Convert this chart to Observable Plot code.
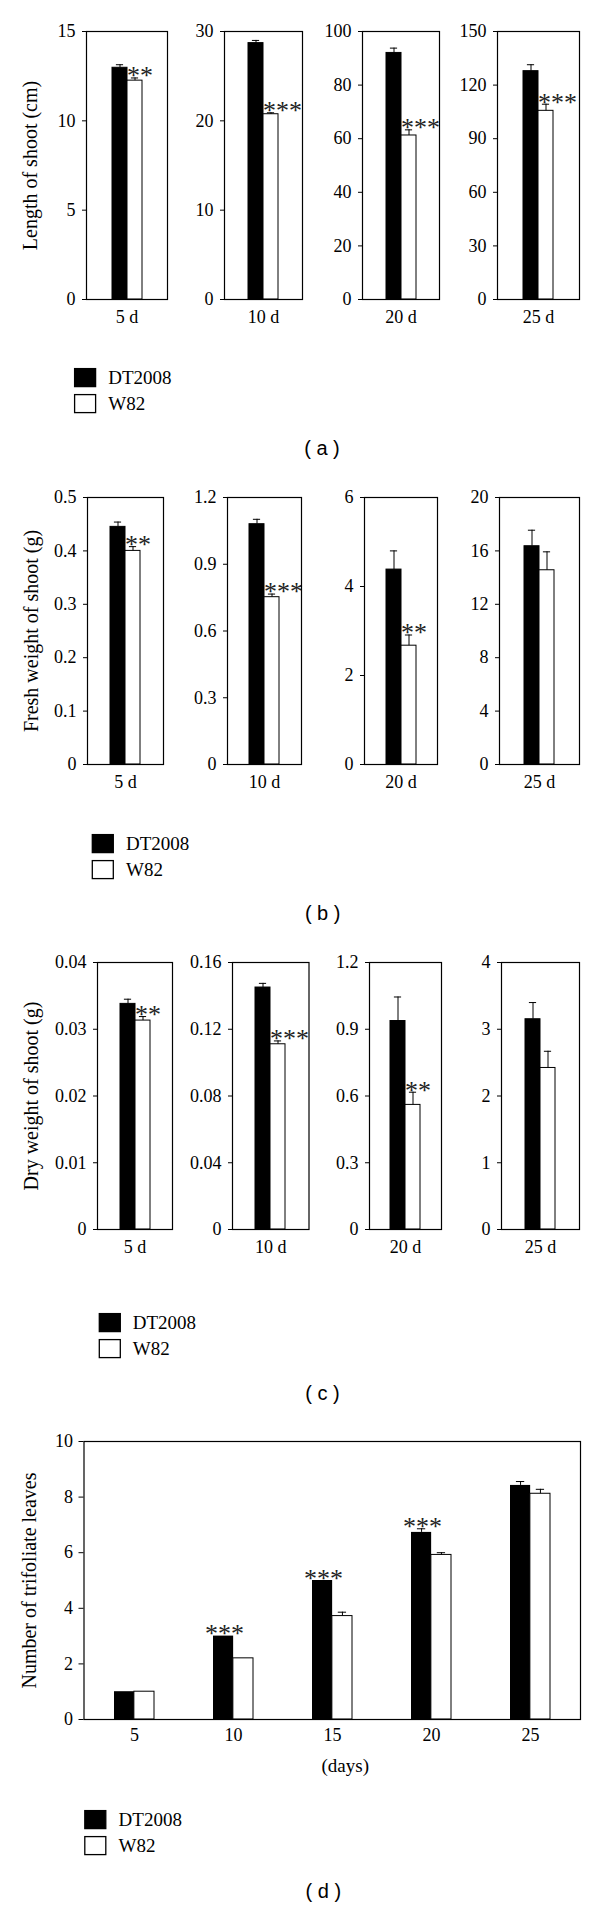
<!DOCTYPE html>
<html><head><meta charset="utf-8">
<script src="https://cdn.jsdelivr.net/npm/d3@7"></script>
<script src="https://cdn.jsdelivr.net/npm/@observablehq/plot@0.6"></script>
<style>
body{margin:0;background:#fff;}
#page{position:relative;width:600px;height:1908px;overflow:hidden;background:#fff;}
#page svg{position:absolute;}
</style></head><body><div id="page"></div>
<script>
// ---------- data ----------
const genotypes = ["DT2008", "W82"];
const days = ["5 d", "10 d", "20 d", "25 d"];

// (a) Length of shoot (cm)
const lengthDT = [12.97, 28.7, 92.0, 127.8];
const lengthDTErr = [0.17, 0.3, 1.8, 3.6];
const lengthW82 = [12.25, 20.74, 61.2, 105.6];
const lengthW82Err = [0.15, 0.16, 2.1, 3.7];
const lengthSig = ["**", "***", "***", "***"];
const lengthMax = [15, 30, 100, 150];
const lengthTicks = [[0, 5, 10, 15], [0, 10, 20, 30], [0, 20, 40, 60, 80, 100], [0, 30, 60, 90, 120, 150]];

// (b) Fresh weight of shoot (g)
const freshDT = [0.445, 1.08, 4.38, 16.35];
const freshDTErr = [0.009, 0.022, 0.42, 1.2];
const freshW82 = [0.40, 0.752, 2.67, 14.55];
const freshW82Err = [0.008, 0.014, 0.24, 1.38];
const freshSig = ["**", "***", "**", ""];
const freshMax = [0.5, 1.2, 6, 20];
const freshTicks = [[0, 0.1, 0.2, 0.3, 0.4, 0.5], [0, 0.3, 0.6, 0.9, 1.2], [0, 2, 4, 6], [0, 4, 8, 12, 16, 20]];

// (c) Dry weight of shoot (g)
const dryDT = [0.0338, 0.145, 0.937, 3.15];
const dryDTErr = [0.0007, 0.0025, 0.108, 0.25];
const dryW82 = [0.0313, 0.111, 0.56, 2.42];
const dryW82Err = [0.0006, 0.002, 0.057, 0.25];
const drySig = ["**", "***", "**", ""];
const dryMax = [0.04, 0.16, 1.2, 4];
const dryTicks = [[0, 0.01, 0.02, 0.03, 0.04], [0, 0.04, 0.08, 0.12, 0.16], [0, 0.3, 0.6, 0.9, 1.2], [0, 1, 2, 3, 4]];

// (d) Number of trifoliate leaves
const leafDays = ["5", "10", "15", "20", "25"];
const leavesDT = [1.0, 3.0, 5.0, 6.73, 8.42];
const leavesDTErr = [0, 0, 0, 0.13, 0.14];
const leavesW82 = [1.0, 2.2, 3.72, 5.92, 8.12];
const leavesW82Err = [0, 0, 0.14, 0.08, 0.16];
const leavesSig = ["", "***", "***", "***", ""];
const leavesTicks = [0, 2, 4, 6, 8, 10];

const titles = ["Length of shoot (cm)", "Fresh weight of shoot (g)", "Dry weight of shoot (g)", "Number of trifoliate leaves"];
const panelLabels = ["( a )", "( b )", "( c )", "( d )"];

// ---------- layout ----------
const rowsLayout = [
  {L: [86, 224, 362, 497], R: [167, 302, 439, 579], T: 31, B: 299, titleOffset: 64},
  {L: [87, 227, 364, 499], R: [163, 301, 437, 579], T: 497, B: 764, titleOffset: 63.6},
  {L: [97, 232, 369, 501], R: [172, 308.5, 441, 579], T: 962, B: 1229, titleOffset: 73.6}
];
const dLayout = {L: 83.5, R: 580, T: 1441, B: 1719, titleOffset: 62};
const legendLayout = [
  {x: 74, y: 368, tx: 108.3},
  {x: 91.7, y: 834, tx: 126},
  {x: 98.7, y: 1313, tx: 132.8},
  {x: 84.2, y: 1810, tx: 118.6}
];
const labelLayout = [{x: 322, y: 455}, {x: 322.7, y: 920}, {x: 322.5, y: 1400}, {x: 323.4, y: 1898}];

const SERIF = "'Liberation Serif','Times New Roman',serif";
const page = document.getElementById("page");
const svgStyle = `background:transparent;overflow:visible;font-family:${SERIF};color:black;max-width:none;`;
const STAR_SIZE = 26;

function subplot({day, dt, dtErr, w82, w82Err, sig, max, ticks, L, R, T, B, title, titleOffset}) {
  const fw = R - L, fh = B - T;
  const mL = title ? L : 55, mR = 30, mT = 12, mB = 36;
  const barW = 15.8;
  const po = (fw / barW - 2) / 2;
  const rows = [{g: genotypes[0], v: dt, e: dtErr}, {g: genotypes[1], v: w82, e: w82Err}];
  const capInset = (barW - 8) / 2;
  const marks = [
    Plot.barY(rows, {x: "g", y: "v", fill: "g", stroke: "black", strokeWidth: 1}),
    Plot.ruleX(rows.filter(d => d.e > 0), {x: "g", y1: "v", y2: d => d.v + d.e, stroke: "black", strokeWidth: 1}),
    Plot.tickY(rows.filter(d => d.e > 0), {x: "g", y: d => d.v + d.e, stroke: "black", strokeWidth: 1, insetLeft: capInset, insetRight: capInset}),
    Plot.text(sig ? [rows[1]] : [], {x: "g", y: d => d.v + d.e, text: () => sig, textAnchor: "start", dx: -barW / 2, lineAnchor: "middle", dy: -2, fontSize: STAR_SIZE, fill: "#222"}),
    Plot.axisY({ticks, tickFormat: d => String(d), tickSize: 4, tickPadding: 7, fontSize: 18, label: null}),
    Plot.text([day], {frameAnchor: "bottom", textAnchor: "middle", lineAnchor: "top", dy: 11, fontSize: 18}),
    Plot.frame({stroke: "black", strokeWidth: 1.2})
  ];
  if (title) marks.push(Plot.text([title], {frameAnchor: "left", textAnchor: "middle", rotate: -90, lineAnchor: "top", dx: -titleOffset, fontSize: 20}));
  const svg = Plot.plot({
    width: mL + fw + mR, height: mT + fh + mB,
    marginLeft: mL, marginRight: mR, marginTop: mT, marginBottom: mB,
    style: svgStyle,
    x: {domain: genotypes, paddingInner: 0, paddingOuter: po, axis: null},
    y: {domain: [0, max]},
    color: {domain: genotypes, range: ["black", "white"]},
    marks
  });
  svg.style.left = (L - mL) + "px";
  svg.style.top = (T - mT) + "px";
  page.appendChild(svg);
}

const panels = [
  {dt: lengthDT, dtErr: lengthDTErr, w82: lengthW82, w82Err: lengthW82Err, sig: lengthSig, max: lengthMax, ticks: lengthTicks},
  {dt: freshDT, dtErr: freshDTErr, w82: freshW82, w82Err: freshW82Err, sig: freshSig, max: freshMax, ticks: freshTicks},
  {dt: dryDT, dtErr: dryDTErr, w82: dryW82, w82Err: dryW82Err, sig: drySig, max: dryMax, ticks: dryTicks}
];

panels.forEach((p, r) => {
  const lay = rowsLayout[r];
  days.forEach((day, i) => {
    subplot({
      day, dt: p.dt[i], dtErr: p.dtErr[i], w82: p.w82[i], w82Err: p.w82Err[i], sig: p.sig[i],
      max: p.max[i], ticks: p.ticks[i], L: lay.L[i], R: lay.R[i], T: lay.T, B: lay.B,
      title: i === 0 ? titles[r] : null, titleOffset: lay.titleOffset
    });
  });
});

// ---------- panel d ----------
{
  const {L, R, T, B, titleOffset} = dLayout;
  const fw = R - L, fh = B - T;
  const mL = L, mR = 600 - R, mT = 12, mB = 70;
  const bw = fw / leafDays.length * 0.4;
  const rows = leafDays.map((day, i) => ({day, dt: leavesDT[i], dtErr: leavesDTErr[i], w82: leavesW82[i], w82Err: leavesW82Err[i], sig: leavesSig[i]}));
  const svg = Plot.plot({
    width: 600, height: mT + fh + mB,
    marginLeft: mL, marginRight: mR, marginTop: mT, marginBottom: mB,
    style: svgStyle,
    x: {domain: leafDays, paddingInner: 0.6, paddingOuter: 0.3},
    y: {domain: [0, 10]},
    marks: [
      Plot.barY(rows, {x: "day", y: "dt", fill: "black", insetRight: bw / 2}),
      Plot.barY(rows, {x: "day", y: "w82", fill: "white", stroke: "black", strokeWidth: 1, insetLeft: bw / 2}),
      Plot.ruleX(rows.filter(d => d.dtErr > 0), {x: "day", y1: "dt", y2: d => d.dt + d.dtErr, dx: -bw / 4, stroke: "black"}),
      Plot.tickY(rows.filter(d => d.dtErr > 0), {x: "day", y: d => d.dt + d.dtErr, insetLeft: bw / 4 - 4, insetRight: 3 * bw / 4 - 4, stroke: "black"}),
      Plot.ruleX(rows.filter(d => d.w82Err > 0), {x: "day", y1: "w82", y2: d => d.w82 + d.w82Err, dx: bw / 4, stroke: "black"}),
      Plot.tickY(rows.filter(d => d.w82Err > 0), {x: "day", y: d => d.w82 + d.w82Err, insetLeft: 3 * bw / 4 - 4, insetRight: bw / 4 - 4, stroke: "black"}),
      Plot.text(rows.filter(d => d.sig), {x: "day", y: d => d.dt + d.dtErr, text: "sig", dx: -bw / 4 + 1, lineAnchor: "middle", dy: -2, fontSize: STAR_SIZE, fill: "#222"}),
      Plot.axisY({ticks: leavesTicks, tickFormat: d => String(d), tickSize: 5, tickPadding: 6, fontSize: 18, label: null}),
      Plot.axisX({tickSize: 0, tickPadding: 9, fontSize: 18, label: null}),
      Plot.text(["(days)"], {frameAnchor: "bottom", textAnchor: "middle", lineAnchor: "top", dy: 39, dx: 13, fontSize: 19}),
      Plot.text([titles[3]], {frameAnchor: "left", textAnchor: "middle", rotate: -90, lineAnchor: "top", dx: -titleOffset, fontSize: 20}),
      Plot.frame({stroke: "black", strokeWidth: 1.2})
    ]
  });
  svg.style.left = "0px";
  svg.style.top = (T - mT) + "px";
  page.appendChild(svg);
}

// ---------- legends and panel labels ----------
const overlay = d3.select(page).append("svg")
  .attr("width", 600).attr("height", 1908)
  .style("left", "0px").style("top", "0px").style("pointer-events", "none");

legendLayout.forEach(lg => {
  genotypes.forEach((g, j) => {
    const y = lg.y + j * 26;
    overlay.append("rect")
      .attr("x", lg.x + 0.6).attr("y", y + 0.6).attr("width", 21).attr("height", 18)
      .attr("fill", j === 0 ? "black" : "white").attr("stroke", "black").attr("stroke-width", 1.3);
    overlay.append("text")
      .attr("x", lg.tx).attr("y", y + 15.5)
      .attr("font-family", SERIF).attr("font-size", 19).attr("fill", "black")
      .text(g);
  });
});

labelLayout.forEach((lb, i) => {
  overlay.append("text")
    .attr("x", lb.x).attr("y", lb.y).attr("text-anchor", "middle")
    .attr("font-family", "'Liberation Sans',Arial,sans-serif").attr("font-size", 20).attr("fill", "black")
    .text(panelLabels[i]);
});
</script>
</body></html>
